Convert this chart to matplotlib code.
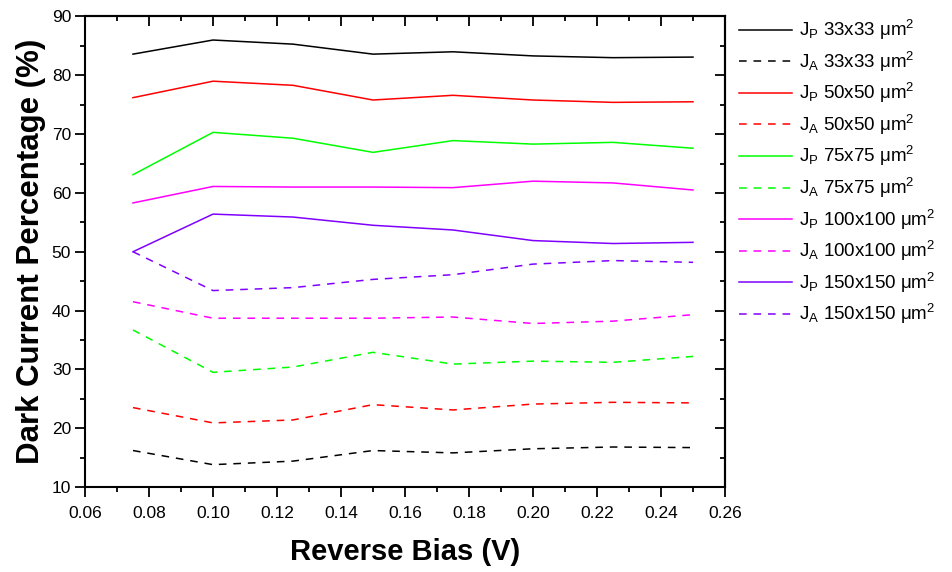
import matplotlib
matplotlib.use("Agg")
import matplotlib.pyplot as plt
from matplotlib.ticker import MultipleLocator

plt.rcParams['font.family'] = ['Liberation Sans', 'DejaVu Sans']
plt.rcParams['mathtext.fontset'] = 'custom'
plt.rcParams['mathtext.rm'] = 'Liberation Sans'
plt.rcParams['mathtext.it'] = 'Liberation Sans:italic'
plt.rcParams['mathtext.bf'] = 'Liberation Sans:bold'

# reverse bias (V)
bias = [0.075, 0.100, 0.125, 0.150, 0.175, 0.200, 0.225, 0.250]

# perimeter (JP) and area (JA) dark current percentage
jp_33 = [83.6, 86.0, 85.3, 83.6, 84.0, 83.3, 83.0, 83.1]
ja_33 = [16.2, 13.8, 14.4, 16.2, 15.8, 16.5, 16.8, 16.7]
jp_50 = [76.2, 79.0, 78.3, 75.8, 76.6, 75.8, 75.4, 75.5]
ja_50 = [23.5, 20.9, 21.4, 24.0, 23.1, 24.1, 24.4, 24.3]
jp_75 = [63.1, 70.3, 69.3, 66.9, 68.9, 68.3, 68.6, 67.6]
ja_75 = [36.7, 29.5, 30.4, 32.9, 30.9, 31.4, 31.2, 32.2]
jp_100 = [58.3, 61.1, 61.0, 61.0, 60.9, 62.0, 61.7, 60.5]
ja_100 = [41.5, 38.7, 38.7, 38.7, 38.9, 37.8, 38.2, 39.3]
jp_150 = [50.0, 56.4, 55.9, 54.5, 53.7, 51.9, 51.4, 51.6]
ja_150 = [50.0, 43.4, 43.9, 45.3, 46.1, 47.9, 48.5, 48.2]

sizes = ["33x33", "50x50", "75x75", "100x100", "150x150"]
colors = ["#000000", "#FF0000", "#00FF00", "#FF00FF", "#8000FF"]
jp_series = [jp_33, jp_50, jp_75, jp_100, jp_150]
ja_series = [ja_33, ja_50, ja_75, ja_100, ja_150]

fig = plt.figure(figsize=(9.52, 5.72), dpi=100)
ax = fig.add_axes([85 / 952, 1 - 487 / 572, 640 / 952, 470.5 / 572])

for size, color, jp, ja in zip(sizes, colors, jp_series, ja_series):
    ax.plot(bias, jp, color=color, lw=1.1,
            label=r"J$_\mathrm{P}$ " + size + r" μm$^\mathrm{2}$")
    ax.plot(bias, ja, color=color, lw=1.1, linestyle=(0, (5, 4.5)),
            label=r"J$_\mathrm{A}$ " + size + r" μm$^\mathrm{2}$")

ax.set_xlim(0.06, 0.26)
ax.set_ylim(10, 90)
ax.xaxis.set_major_locator(MultipleLocator(0.02))
ax.xaxis.set_minor_locator(MultipleLocator(0.01))
ax.yaxis.set_major_locator(MultipleLocator(10))
ax.yaxis.set_minor_locator(MultipleLocator(5))
ax.xaxis.set_major_formatter(lambda v, p: f"{v:.2f}")

for s in ax.spines.values():
    s.set_linewidth(1.5)
ax.tick_params(axis='x', which='major', direction='out', length=7, width=1.3, labelsize=12.5, pad=7)
ax.tick_params(axis='y', which='major', direction='out', length=7, width=1.3, labelsize=12.5, pad=3)
ax.tick_params(which='minor', direction='out', length=3.5, width=1.3)

# top and right axes: ticks pointing inward, no labels
top = ax.secondary_xaxis('top')
top.xaxis.set_major_locator(MultipleLocator(0.02))
top.xaxis.set_minor_locator(MultipleLocator(0.01))
top.tick_params(which='major', direction='in', length=7, width=1.3, labeltop=False)
top.tick_params(which='minor', direction='in', length=3.5, width=1.3)
right = ax.secondary_yaxis('right')
right.yaxis.set_major_locator(MultipleLocator(10))
right.yaxis.set_minor_locator(MultipleLocator(5))
right.tick_params(which='major', direction='in', length=7, width=1.3, labelright=False)
right.tick_params(which='minor', direction='in', length=3.5, width=1.3)
for sec in (top, right):
    for s in sec.spines.values():
        s.set_linewidth(1.5)

ax.set_xlabel("Reverse Bias (V)", fontsize=21, fontweight='bold', labelpad=12)
ax.set_ylabel("Dark Current Percentage (%)", fontsize=22.5, fontweight='bold', labelpad=4)

fig.legend(loc='upper left', bbox_to_anchor=(739 / 952, 1 - 18 / 572),
           frameon=False, fontsize=13.5, handlelength=2.85, handletextpad=0.37,
           labelspacing=0.4, borderpad=0, borderaxespad=0)

fig.savefig("out.png", dpi=100)
